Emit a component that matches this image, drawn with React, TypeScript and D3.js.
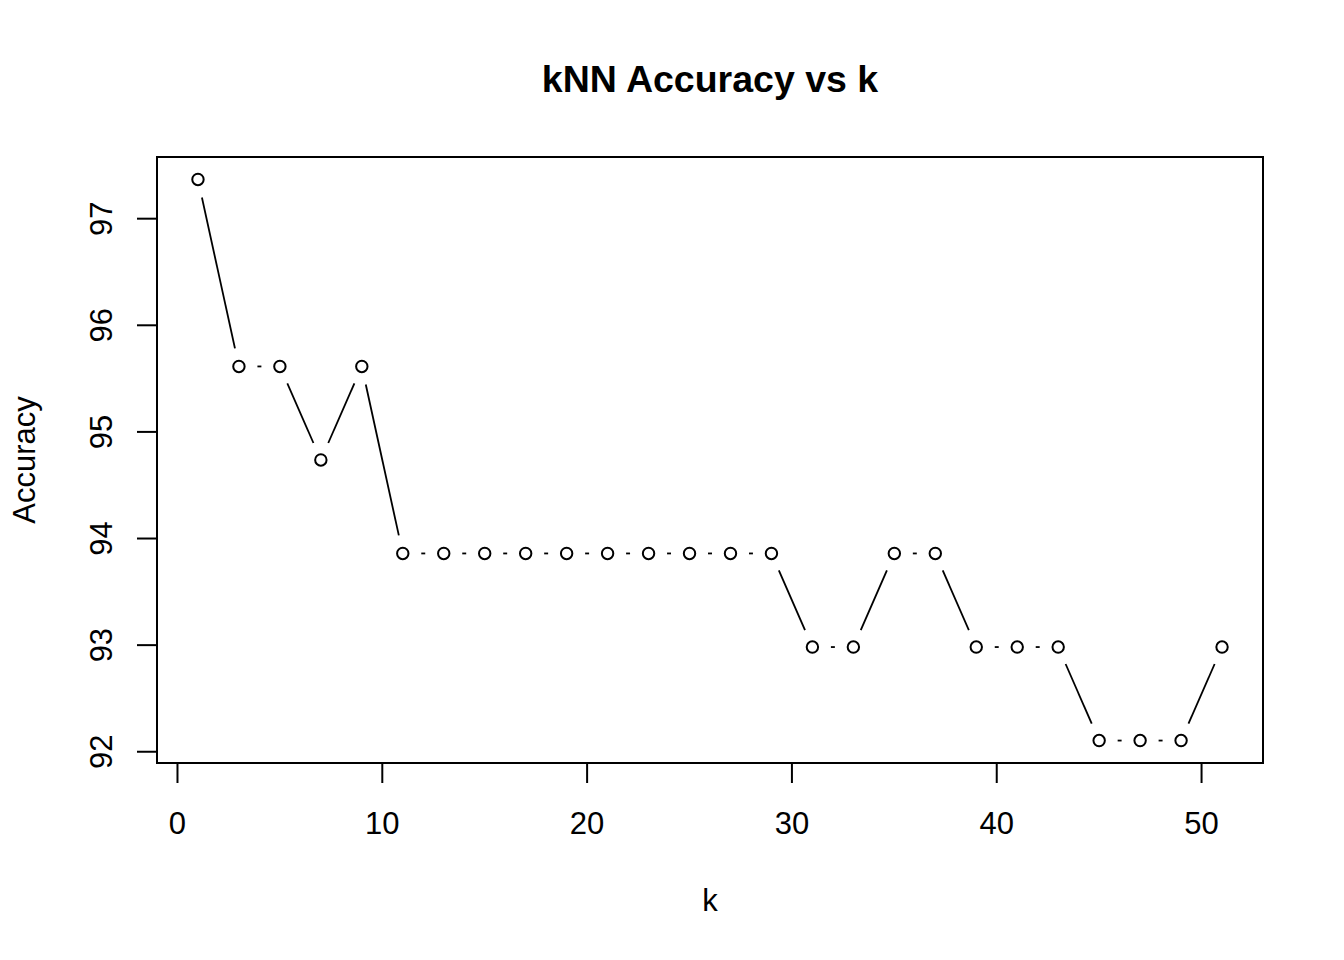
import { useEffect, useRef } from 'react'
import * as d3 from 'd3'

const kValues = [1, 3, 5, 7, 9, 11, 13, 15, 17, 19, 21, 23, 25, 27, 29, 31, 33, 35, 37, 39, 41, 43, 45, 47, 49, 51]
const accuracy = [
  97.368, 95.614, 95.614, 94.737, 95.614,
  93.860, 93.860, 93.860, 93.860, 93.860, 93.860, 93.860, 93.860, 93.860, 93.860,
  92.982, 92.982, 93.860, 93.860, 92.982, 92.982, 92.982,
  92.105, 92.105, 92.105, 92.982,
]
const xTicks = [0, 10, 20, 30, 40, 50]
const yTicks = [92, 93, 94, 95, 96, 97]

const W = 1344
const H = 960
const box = { left: 157, right: 1263, top: 157, bottom: 763 }
const font = 'Liberation Sans, Arial, sans-serif'

export default function App() {
  const ref = useRef<SVGSVGElement>(null)

  useEffect(() => {
    if (!ref.current) return
    const svg = d3.select(ref.current)
    svg.selectAll('*').remove()

    // R style 4% extension of the data range
    const xr = d3.extent(kValues) as [number, number]
    const yr = d3.extent(accuracy) as [number, number]
    const xp = (xr[1] - xr[0]) * 0.04
    const yp = (yr[1] - yr[0]) * 0.04
    const x = d3.scaleLinear().domain([xr[0] - xp, xr[1] + xp]).range([box.left, box.right])
    const y = d3.scaleLinear().domain([yr[0] - yp, yr[1] + yp]).range([box.bottom, box.top])

    svg.append('rect')
      .attr('width', W).attr('height', H).attr('fill', 'white')

    // Title
    svg.append('text')
      .attr('x', (box.left + box.right) / 2)
      .attr('y', 92)
      .attr('text-anchor', 'middle')
      .style('font-family', font)
      .style('font-weight', 'bold')
      .style('font-size', '37.5px')
      .text('kNN Accuracy vs k')

    // type = "b": segments with gaps around points
    const gap = 18.5
    const pts = kValues.map((k, i) => [x(k), y(accuracy[i])] as [number, number])
    const segs = svg.append('g')
    for (let i = 0; i < pts.length - 1; i++) {
      const [x0, y0] = pts[i]
      const [x1, y1] = pts[i + 1]
      const len = Math.hypot(x1 - x0, y1 - y0)
      if (len <= 2 * gap) continue
      const ux = (x1 - x0) / len
      const uy = (y1 - y0) / len
      segs.append('line')
        .attr('x1', x0 + ux * gap).attr('y1', y0 + uy * gap)
        .attr('x2', x1 - ux * gap).attr('y2', y1 - uy * gap)
        .attr('stroke', 'black')
        .attr('stroke-width', 1.8)
    }

    svg.append('g').selectAll('circle')
      .data(pts)
      .enter()
      .append('circle')
      .attr('cx', d => d[0])
      .attr('cy', d => d[1])
      .attr('r', 5.7)
      .attr('fill', 'none')
      .attr('stroke', 'black')
      .attr('stroke-width', 2)

    // Box
    svg.append('rect')
      .attr('x', box.left).attr('y', box.top)
      .attr('width', box.right - box.left)
      .attr('height', box.bottom - box.top)
      .attr('fill', 'none')
      .attr('stroke', 'black')
      .attr('stroke-width', 2)

    // X axis
    const xa = svg.append('g')
    xa.append('line')
      .attr('x1', x(xTicks[0])).attr('x2', x(xTicks[xTicks.length - 1]))
      .attr('y1', box.bottom).attr('y2', box.bottom)
      .attr('stroke', 'black').attr('stroke-width', 2)
    xTicks.forEach(t => {
      xa.append('line')
        .attr('x1', x(t)).attr('x2', x(t))
        .attr('y1', box.bottom).attr('y2', box.bottom + 20)
        .attr('stroke', 'black').attr('stroke-width', 2)
      xa.append('text')
        .attr('x', x(t)).attr('y', 834)
        .attr('text-anchor', 'middle')
        .style('font-family', font)
        .style('font-size', '31px')
        .text(String(t))
    })

    // Y axis
    const ya = svg.append('g')
    ya.append('line')
      .attr('x1', box.left).attr('x2', box.left)
      .attr('y1', y(yTicks[0])).attr('y2', y(yTicks[yTicks.length - 1]))
      .attr('stroke', 'black').attr('stroke-width', 2)
    yTicks.forEach(t => {
      ya.append('line')
        .attr('x1', box.left - 20).attr('x2', box.left)
        .attr('y1', y(t)).attr('y2', y(t))
        .attr('stroke', 'black').attr('stroke-width', 2)
      ya.append('text')
        .attr('transform', `translate(112,${y(t)}) rotate(-90)`)
        .attr('text-anchor', 'middle')
        .style('font-family', font)
        .style('font-size', '31px')
        .text(String(t))
    })

    // Axis titles
    svg.append('text')
      .attr('x', (box.left + box.right) / 2)
      .attr('y', 911)
      .attr('text-anchor', 'middle')
      .style('font-family', font)
      .style('font-size', '31px')
      .text('k')

    svg.append('text')
      .attr('transform', `translate(35,${(box.top + box.bottom) / 2}) rotate(-90)`)
      .attr('text-anchor', 'middle')
      .style('font-family', font)
      .style('font-size', '31px')
      .text('Accuracy')
  }, [])

  return (
    <div style={{ margin: -8 }}>
      <svg ref={ref} width={W} height={H} style={{ display: 'block' }} />
    </div>
  )
}
